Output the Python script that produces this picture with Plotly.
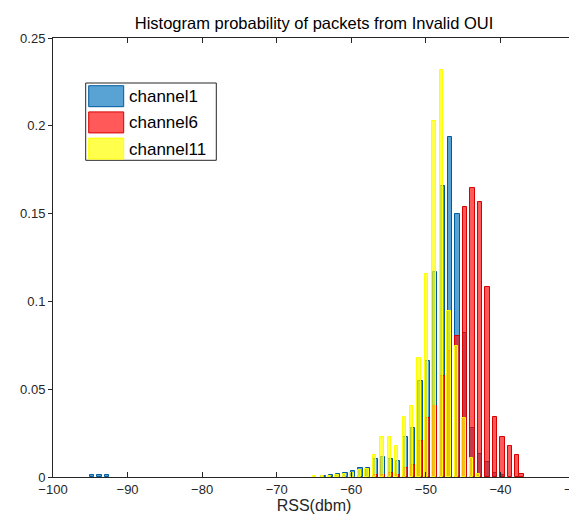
import plotly.graph_objects as go

# bin centres (dBm) and probabilities
ch1_rss = [-94.75, -93.75, -92.75, -63.75, -62.75, -61.75, -60.75, -59.75,
           -58.75, -57.75, -56.75, -55.75, -54.75, -53.75, -52.75, -51.75,
           -50.75, -49.75, -48.75, -47.75, -46.75, -45.75, -44.75, -43.75,
           -42.75, -41.75, -40.75, -39.75]
ch1_prob = [0.001, 0.001, 0.001, 0.0007, 0.001, 0.0015, 0.0025, 0.0034,
            0.0053, 0.005, 0.010, 0.0114, 0.010, 0.009, 0.0228, 0.028,
            0.0546, 0.066, 0.117, 0.166, 0.1935, 0.150, 0.082, 0.028,
            0.0133, 0.0087, 0.002, 0.001]

ch6_rss = [-56.75, -55.75, -54.75, -53.75, -52.75, -51.75, -50.75, -49.75,
           -48.75, -47.75, -46.75, -45.75, -44.75, -43.75, -42.75, -41.75,
           -40.75, -39.75, -38.75, -37.75, -37.2]
ch6_prob = [0.001, 0.001, 0.002, 0.001, 0.0053, 0.007, 0.0205, 0.0337,
            0.0404, 0.0575, 0.072, 0.0802, 0.1538, 0.1645, 0.1565, 0.1083,
            0.0341, 0.0228, 0.0176, 0.0125, 0.0019]

ch11_rss = [-64.9, -63.9, -62.9, -61.9, -60.9, -59.9, -58.9, -57.9, -56.9,
            -55.9, -54.9, -53.9, -52.9, -51.9, -50.9, -49.9, -48.9, -47.9,
            -46.9, -45.9, -44.9, -43.9, -42.9]
ch11_prob = [0.0005, 0.0005, 0.0007, 0.001, 0.0015, 0.002, 0.004, 0.0045,
             0.0125, 0.0228, 0.0228, 0.0176, 0.034, 0.0404, 0.068, 0.1157,
             0.203, 0.232, 0.0945, 0.0746, 0.0334, 0.0106, 0.0015]

names = ["channel1", "channel6", "channel11"]

W, H = 577, 521
ML, MR, MT, MB = 45, 10, 30, 52
AX = "#262626"
FONT = "Liberation Sans, Arial, sans-serif"

# (fill, edge, bar width) per channel, MATLAB-like FaceAlpha look
styles = [
    ("rgba(0,114,189,0.65)", "rgb(0,90,160)", 0.6),
    ("rgba(255,0,0,0.65)", "rgb(215,0,0)", 0.6),
    ("rgba(255,255,0,0.7)", "rgb(255,255,0)", 0.45),
]


def to_paper(x, y):
    """pixel position -> paper coords of the plot area"""
    return (x - ML) / (W - ML - MR), (H - MB - y) / (H - MT - MB)


fig = go.Figure()
for (rss, prob), name, (fill, edge, bw) in zip(
        [(ch1_rss, ch1_prob), (ch6_rss, ch6_prob), (ch11_rss, ch11_prob)],
        names, styles):
    fig.add_trace(go.Bar(
        x=rss, y=prob, name=name, width=bw,
        marker=dict(color=fill, line=dict(color=edge, width=1)),
        showlegend=False,
    ))

# legend drawn like the MATLAB one: big patches in a framed box
shapes = []
annotations = []
x0, y0 = to_paper(77.7, 75)
x1, y1 = to_paper(208.3, 152.3)
shapes.append(dict(type="rect", xref="paper", yref="paper", x0=x0, y0=y0,
                   x1=x1, y1=y1, line=dict(color=AX, width=1),
                   fillcolor="white", layer="above"))
for i, (name, (fill, edge, bw)) in enumerate(zip(names, styles)):
    top = 77.7 + i * 26.2
    px0, py0 = to_paper(80.7, top)
    px1, py1 = to_paper(115.7, top + 21)
    shapes.append(dict(type="rect", xref="paper", yref="paper", x0=px0,
                       y0=py0, x1=px1, y1=py1, fillcolor=fill,
                       line=dict(color=edge, width=1), layer="above"))
    tx, ty = to_paper(118.5, top + 11)
    annotations.append(dict(text=name, xref="paper", yref="paper", x=tx, y=ty,
                            xanchor="left", yanchor="middle", showarrow=False,
                            font=dict(family=FONT, size=17, color="black")))

fig.update_layout(
    width=W, height=H,
    margin=dict(l=ML, r=MR, t=MT, b=MB, autoexpand=False),
    paper_bgcolor="white", plot_bgcolor="white",
    barmode="overlay", bargap=0,
    font=dict(family=FONT, size=13, color=AX),
    title=dict(text="Histogram probability of packets from Invalid OUI",
               xref="paper", x=0.5, xanchor="center", y=1 - 15 / H,
               yanchor="middle",
               font=dict(family=FONT, size=16.5, color="black")),
    xaxis=dict(range=[-100, -30], dtick=10, tick0=-100, showgrid=False,
               zeroline=False, showline=True, linecolor=AX, linewidth=1,
               mirror="ticks", ticks="inside", ticklen=5, tickcolor=AX,
               automargin=False, ticklabeloverflow="allow",
               title=dict(text="RSS(dbm)", standoff=2,
                          font=dict(family=FONT, size=16, color=AX))),
    yaxis=dict(range=[0, 0.25], dtick=0.05, showgrid=False, zeroline=False,
               showline=True, linecolor=AX, linewidth=1, mirror=True,
               ticks="outside", ticklen=4, tickcolor=AX, automargin=False),
    shapes=shapes,
    annotations=annotations,
)

fig.write_html("out.html")
